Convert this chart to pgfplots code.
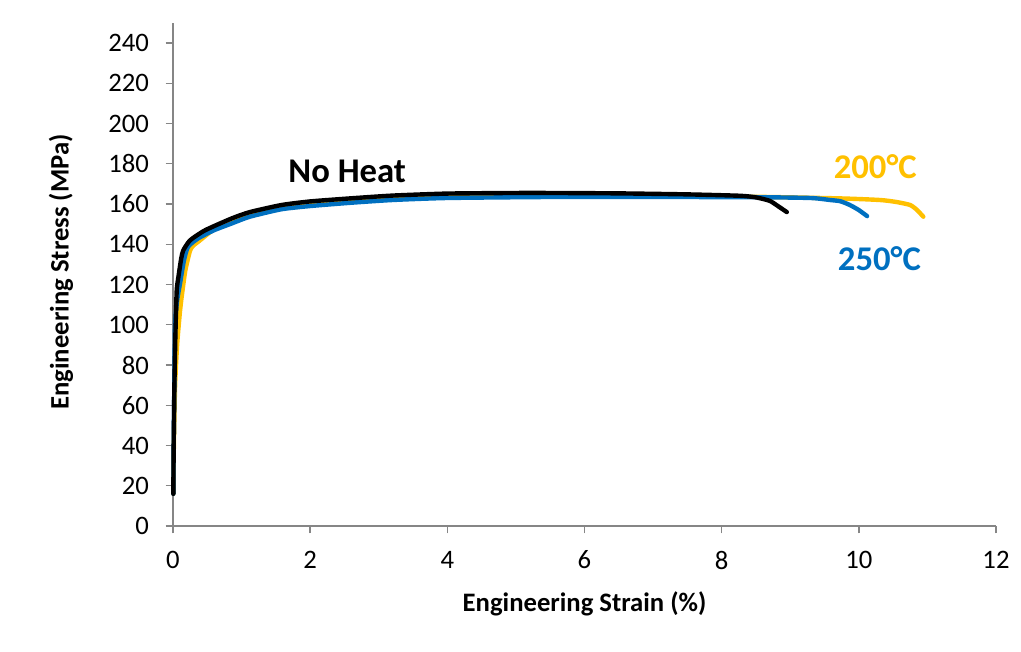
\documentclass[border=0pt]{standalone}
\usepackage{fontspec}
\setmainfont{Carlito}
\usepackage{pgfplots}
\pgfplotsset{compat=1.18}
\definecolor{axisgray}{HTML}{868686}
\definecolor{c200}{HTML}{FFC000}
\definecolor{c250}{HTML}{0070C0}
\begin{document}
\begin{tikzpicture}
\useasboundingbox (-129.75pt,-94.5pt) rectangle (636pt,394.5pt);
\begin{axis}[
  at={(0,0)}, anchor=south west,
  width=617.25pt, height=377.3pt, scale only axis,
  xmin=0, xmax=12, ymin=0, ymax=250,
  xtick={0,2,...,12}, ytick={0,20,...,240},
  axis lines=left,
  axis line style={draw=axisgray, line width=1pt, -},
  tick style={draw=axisgray, line width=1pt},
  tick align=outside, major tick length=5.5pt,
  /pgf/number format/assume math mode=true,
  ticklabel style={font=\fontsize{20}{24}\selectfont},
  xticklabel style={anchor=center, yshift=-20pt},
  yticklabel style={anchor=east, xshift=-9pt},
  xlabel={\textbf{Engineering Strain (\%)}},
  ylabel={\textbf{Engineering Stress (MPa)}},
  label style={font=\fontsize{20}{24}\selectfont},
  xlabel style={at={(axis description cs:0.5,-0.155)}, anchor=center},
  ylabel style={at={(axis description cs:-0.136,0.505)}, anchor=center, rotate=0},
  clip=false,
  every axis plot/.append style={line width=3.3pt, line join=round, line cap=round, smooth, tension=0.35},
]
% 200 C
\addplot[c200] coordinates {
(0.005,16) (0.01,35) (0.03,69) (0.06,90) (0.1,106) (0.127,114) (0.18,127)
(0.25,137) (0.3,139.5) (0.37,141.3) (0.6,147.5) (0.86,151.5) (1.12,155)
(1.58,158.4) (2.0,160) (2.58,161.6) (3.2,162.8) (4.0,163.8) (5.5,164.3)
(7.0,164) (8.5,163.6) (9.73,162.8) (10.31,162) (10.55,161) (10.75,159.5)
(10.85,157) (10.94,153.7)};
% 250 C
\addplot[c250] coordinates {
(0.005,16) (0.01,40) (0.02,72) (0.03,100) (0.06,112) (0.1,120) (0.16,132)
(0.22,138.8) (0.37,143) (0.6,147) (0.86,150.4) (1.12,153.7) (1.58,157.4)
(2.0,159) (2.58,160.6) (3.2,162) (4.0,163) (5.5,163.5) (7.0,163.5)
(8.5,163.4) (9.3,163) (9.58,162) (9.73,161.4) (9.87,159.5) (10.0,157)
(10.12,154)};
% no heat
\addplot[black] coordinates {
(0.005,16) (0.01,40) (0.02,69) (0.035,95) (0.054,117) (0.08,124) (0.12,133)
(0.15,137) (0.25,142) (0.47,147) (0.86,152.9) (1.12,156) (1.58,159.5)
(2.0,161.3) (2.58,162.8) (3.2,164.2) (4.0,165.2) (5.0,165.5) (5.5,165.5)
(6.5,165.3) (7.5,164.8) (8.27,164.1) (8.5,163.3) (8.7,161.6) (8.82,159)
(8.95,156)};
\node[font=\fontsize{26}{30}\selectfont\bfseries, text=black, inner sep=0pt] at (axis cs:2.54,176.4) {No Heat};
\node[font=\fontsize{26}{30}\selectfont\bfseries, text=c200, inner sep=0pt] at (axis cs:10.24,178.8) {200°C};
\node[font=\fontsize{26}{30}\selectfont\bfseries, text=c250, inner sep=0pt] at (axis cs:10.3,132.7) {250°C};
\end{axis}
\end{tikzpicture}
\end{document}
